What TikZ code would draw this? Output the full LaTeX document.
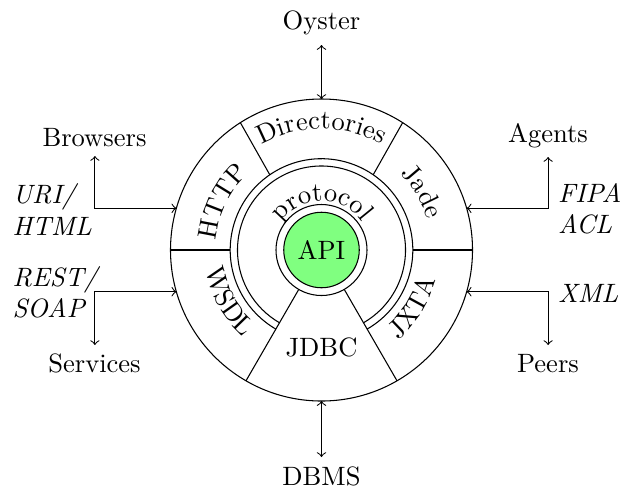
\documentclass[tikz,border=0pt]{standalone}
\usetikzlibrary{decorations.text}
\begin{document}
\begin{tikzpicture}[x=0.3768pt,y=0.3768pt,
  lbl/.style={inner sep=0pt, anchor=base},
  ilbl/.style={inner sep=0pt, anchor=base west, font=\itshape},
  link/.style={<->},
  arctext/.style={decorate, decoration={text along path, text align=center, text={#1}}}]
\useasboundingbox (-321.5,-239) rectangle (298.5,250);
% rings
\draw (0,0) circle[radius=151];
\draw (-60:91.3) arc[start angle=-60, end angle=240, radius=91.3];
\draw (-60:84) arc[start angle=-60, end angle=240, radius=84];
\draw (0,0) circle[radius=45.5];
\node[circle, draw, fill=green!50, minimum size=1cm, inner sep=0pt] (api) at (0,0) {API};
% sector boundaries
\draw (0:91.3) -- (0:151);
\draw (180:91.3) -- (180:151);
\draw (55.5:91.3) -- (57.5:151);
\draw (124.5:91.3) -- (122.5:151);
\draw (-60:45.5) -- (-60:151);
\draw (240:45.5) -- (240:151);
% sector texts
\path[arctext=Directories] (125:121) arc[start angle=125, end angle=55, radius=121];
\path[arctext=HTTP] (184:106) arc[start angle=184, end angle=124, radius=106];
\path[arctext=Jade] (60:110) arc[start angle=60, end angle=0, radius=110];
\path[arctext=WSDL] (179:117) arc[start angle=179, end angle=239, radius=117];
\path[arctext=JXTA] (-62:118) arc[start angle=-62, end angle=-2, radius=118];
\path[arctext=protocol] (170:49) arc[start angle=170, end angle=10, radius=49];
\node (jdbc) at (0,-97) {JDBC};
% outer labels
\node[lbl] (oyster) at (0,221) {Oyster};
\node[lbl] (dbms) at (0,-235) {DBMS};
\node[lbl] (browsers) at (-227,103.5) {Browsers};
\node[lbl] (services) at (-227,-122) {Services};
\node[lbl] (agents) at (226.5,108) {Agents};
\node[lbl] (peers) at (226.5,-122) {Peers};
% connector ends
\coordinate (oysterEnd) at (0,205);
\coordinate (ringTop) at (90:151);
\coordinate (dbmsEnd) at (0,-207);
\coordinate (ringBot) at (-90:151);
\coordinate (browsersEnd) at (-226.6,94);
\coordinate (httpIn) at (-145.1,41.7);
\coordinate (servicesEnd) at (-226.6,-95);
\coordinate (wsdlIn) at (-145.1,-41.7);
\coordinate (agentsEnd) at (226.6,93);
\coordinate (jadeIn) at (145.1,41.7);
\coordinate (peersEnd) at (226.6,-95);
\coordinate (jxtaIn) at (145.1,-41.7);
\draw[link] (oysterEnd) -- (ringTop);
\draw[link] (dbmsEnd) -- (ringBot);
\draw[link] (browsersEnd) |- (httpIn);
\draw[link] (servicesEnd) |- (wsdlIn);
\draw[link] (agentsEnd) |- (jadeIn);
\draw[link] (peersEnd) |- (jxtaIn);
% protocol labels
\node[ilbl] (uri) at (-309.5,47) {URI/};
\node[ilbl] (html) at (-309.5,15) {HTML};
\node[ilbl] (rest) at (-309.5,-36) {REST/};
\node[ilbl] (soap) at (-309.5,-67) {SOAP};
\node[ilbl] (fipa) at (236,48) {FIPA};
\node[ilbl] (acl) at (236,17) {ACL};
\node[ilbl] (xml) at (236,-52) {XML};
\end{tikzpicture}
\end{document}
